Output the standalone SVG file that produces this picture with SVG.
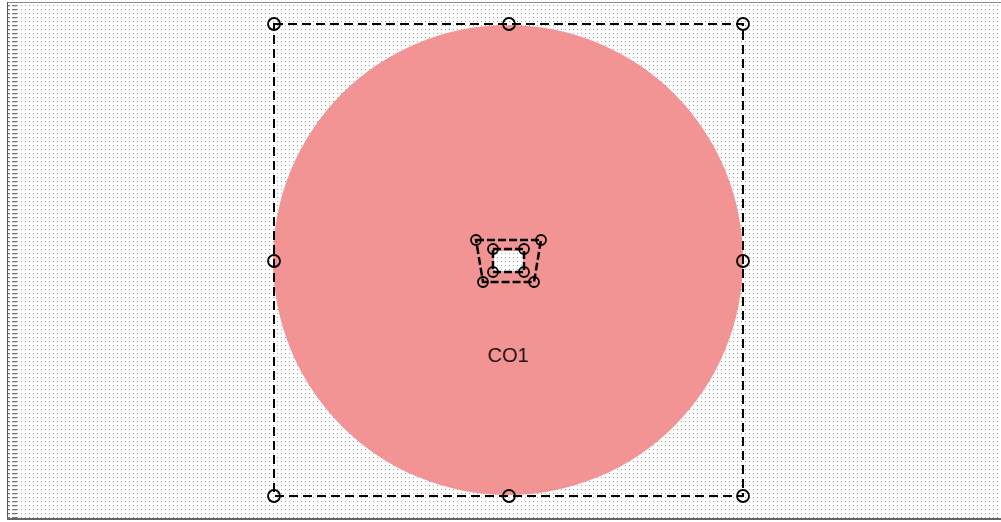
<svg xmlns="http://www.w3.org/2000/svg" width="1001" height="522" viewBox="0 0 1001 522">
<defs>
<pattern id="dots" x="0" y="0" width="4" height="4" patternUnits="userSpaceOnUse">
<rect x="1" y="1" width="1" height="1" fill="#a0a0a0"/>
</pattern>
<pattern id="ticks" x="0" y="0" width="12" height="4" patternUnits="userSpaceOnUse">
<rect x="0" y="1" width="10" height="1.3" fill="#777"/>
</pattern>
</defs>
<style>
.h{fill:none;stroke:#000;stroke-width:1.8}
.d{fill:none;stroke:#000;stroke-width:2;stroke-dasharray:9,5}
.di{fill:none;stroke:#000;stroke-width:2.5;stroke-dasharray:8,3}
.t{font-family:"Liberation Sans",Arial,sans-serif;font-size:20px;fill:#2a1515}
</style>
<rect x="0" y="0" width="1001" height="522" fill="#fff"/>
<rect x="8" y="3" width="993" height="515" fill="url(#dots)"/>
<rect x="7" y="3" width="10" height="515" fill="url(#ticks)"/>
<line x1="7" y1="2.5" x2="1001" y2="2.5" stroke="#888" stroke-width="1"/>
<line x1="7.5" y1="2" x2="7.5" y2="519" stroke="#555" stroke-width="1"/>
<line x1="7" y1="519" x2="1001" y2="519" stroke="#666" stroke-width="2"/>
<g id="co1">
<circle cx="508" cy="260" r="235" fill="#F29494"/>
<rect x="494" y="251" width="29" height="20" rx="3" fill="#fff"/>
<rect x="494" y="251" width="29" height="20" rx="3" fill="url(#dots)"/>
<text class="t" x="508" y="362" text-anchor="middle">CO1</text>
</g>
<g id="selection">
<rect class="d" x="274" y="24" width="469" height="472"/>
<circle class="h" cx="274" cy="24" r="6"/>
<circle class="h" cx="509" cy="24" r="6"/>
<circle class="h" cx="743" cy="24" r="6"/>
<circle class="h" cx="274" cy="261" r="6"/>
<circle class="h" cx="743" cy="261" r="6"/>
<circle class="h" cx="274" cy="496" r="6"/>
<circle class="h" cx="509" cy="496" r="6"/>
<circle class="h" cx="743" cy="496" r="6"/>
</g>
<g id="inner-selection">
<polygon class="di" points="476,240 541,240 534,282 483,282"/>
<rect class="di" x="493" y="249" width="31" height="23"/>
<circle class="h" cx="476" cy="240" r="5"/>
<circle class="h" cx="541" cy="240" r="5"/>
<circle class="h" cx="483" cy="282" r="5"/>
<circle class="h" cx="534" cy="282" r="5"/>
<circle class="h" cx="493" cy="249" r="5"/>
<circle class="h" cx="524" cy="249" r="5"/>
<circle class="h" cx="493" cy="272" r="5"/>
<circle class="h" cx="524" cy="272" r="5"/>
</g>
</svg>
